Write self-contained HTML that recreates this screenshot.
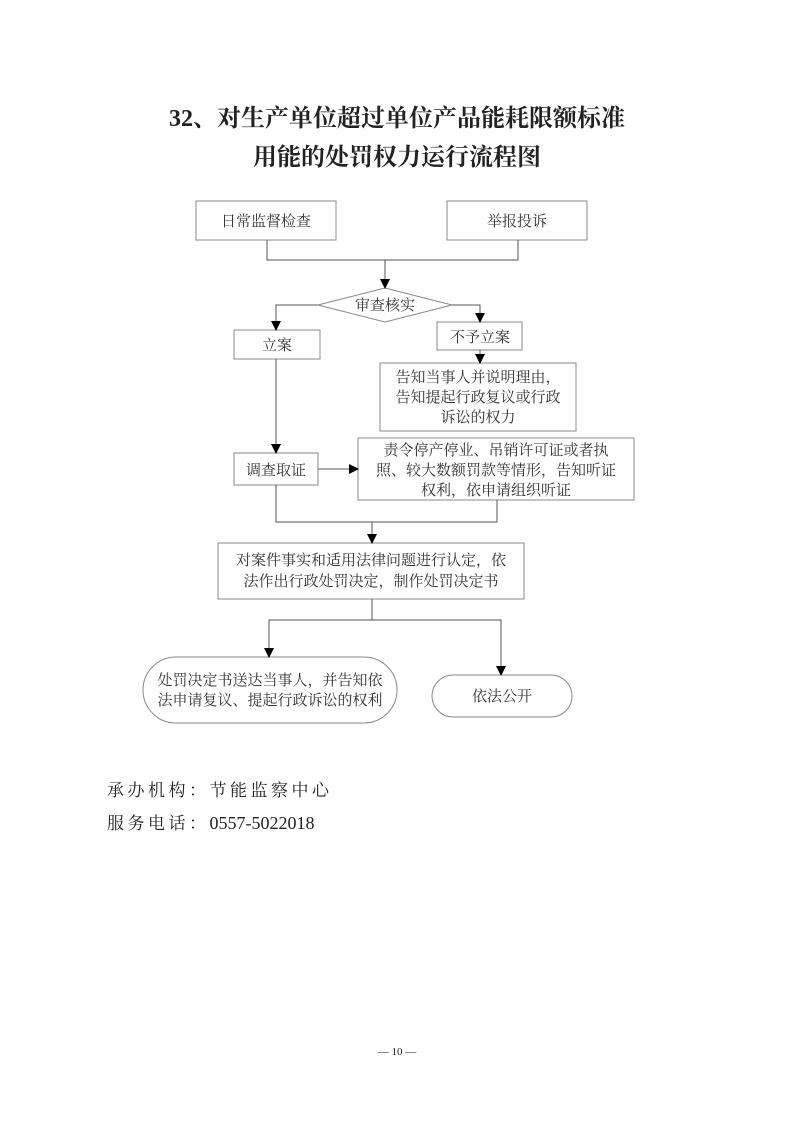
<!DOCTYPE html>
<html><head><meta charset="utf-8"><style>
body{margin:0;background:#fff}
svg{display:block}
.t{font-family:"Liberation Serif","Noto Serif CJK SC",serif;fill:#222}
.b{font-family:"Liberation Serif","Noto Serif CJK SC",serif;fill:#333;font-size:15px}
</style></head><body>
<svg width="793" height="1122" viewBox="0 0 793 1122" xmlns="http://www.w3.org/2000/svg">
<defs><marker id="a" markerWidth="10" markerHeight="10" refX="9" refY="5" orient="auto" markerUnits="userSpaceOnUse"><path d="M0,0 L10,5 L0,10 Z" fill="#000"/></marker></defs>
<text class="t" x="397" y="126" text-anchor="middle" font-size="24" font-weight="bold">32、对生产单位超过单位产品能耗限额标准</text>
<text class="t" x="397" y="165" text-anchor="middle" font-size="24" font-weight="bold">用能的处罚权力运行流程图</text>
<g fill="none" stroke="#888" stroke-width="1">
<rect x="196" y="201" width="140" height="39"/>
<rect x="447" y="201" width="140" height="39"/>
<polygon points="318,305 385,288 452,305 385,322"/>
<rect x="234" y="330" width="86" height="29"/>
<rect x="437" y="322" width="85" height="28"/>
<rect x="380" y="363" width="196" height="68"/>
<rect x="234" y="453" width="84" height="32"/>
<rect x="358" y="438" width="276" height="62"/>
<rect x="218" y="543" width="306" height="56"/>
<rect x="143" y="657" width="254" height="66" rx="33"/>
<rect x="432" y="675" width="140" height="42" rx="21"/>
</g>
<g fill="none" stroke="#555" stroke-width="1">
<path d="M267,240 V260 H518 V240"/>
<path d="M385,260 V288" marker-end="url(#a)"/>
<path d="M318,305 H276 V330" marker-end="url(#a)"/>
<path d="M452,305 H480 V322" marker-end="url(#a)"/>
<path d="M480,350 V363" marker-end="url(#a)"/>
<path d="M276,359 V453" marker-end="url(#a)"/>
<path d="M318,469 H358" marker-end="url(#a)"/>
<path d="M276,485 V522 H497 V500"/>
<path d="M372,522 V543" marker-end="url(#a)"/>
<path d="M372,599 V620 H269 V657" marker-end="url(#a)"/>
<path d="M372,620 H501 V675" marker-end="url(#a)"/>
</g>
<text class="b" x="266" y="226" text-anchor="middle">日常监督检查</text>
<text class="b" x="517" y="226" text-anchor="middle">举报投诉</text>
<text class="b" x="385" y="310" text-anchor="middle">审查核实</text>
<text class="b" x="277" y="350" text-anchor="middle">立案</text>
<text class="b" x="480" y="342" text-anchor="middle">不予立案</text>
<text class="b" x="478" y="382" text-anchor="middle">告知当事人并说明理由，</text>
<text class="b" x="478" y="402" text-anchor="middle">告知提起行政复议或行政</text>
<text class="b" x="478" y="422" text-anchor="middle">诉讼的权力</text>
<text class="b" x="276" y="475" text-anchor="middle">调查取证</text>
<text class="b" x="496" y="455" text-anchor="middle">责令停产停业、吊销许可证或者执</text>
<text class="b" x="496" y="475" text-anchor="middle">照、较大数额罚款等情形，告知听证</text>
<text class="b" x="496" y="495" text-anchor="middle">权利，依申请组织听证</text>
<text class="b" x="371" y="565" text-anchor="middle">对案件事实和适用法律问题进行认定，依</text>
<text class="b" x="371" y="586" text-anchor="middle">法作出行政处罚决定，制作处罚决定书</text>
<text class="b" x="270" y="685" text-anchor="middle">处罚决定书送达当事人，并告知依</text>
<text class="b" x="270" y="705" text-anchor="middle">法申请复议、提起行政诉讼的权利</text>
<text class="b" x="502" y="701" text-anchor="middle">依法公开</text>
<text class="t" x="107" y="796" font-size="17" letter-spacing="3.5">承办机构：节能监察中心</text>
<text class="t" x="107" y="829" font-size="17" letter-spacing="3.5">服务电话：<tspan font-size="18" letter-spacing="0">0557-5022018</tspan></text>
<text class="t" x="397" y="1055" text-anchor="middle" font-size="11">— 10 —</text>
</svg>
</body></html>
